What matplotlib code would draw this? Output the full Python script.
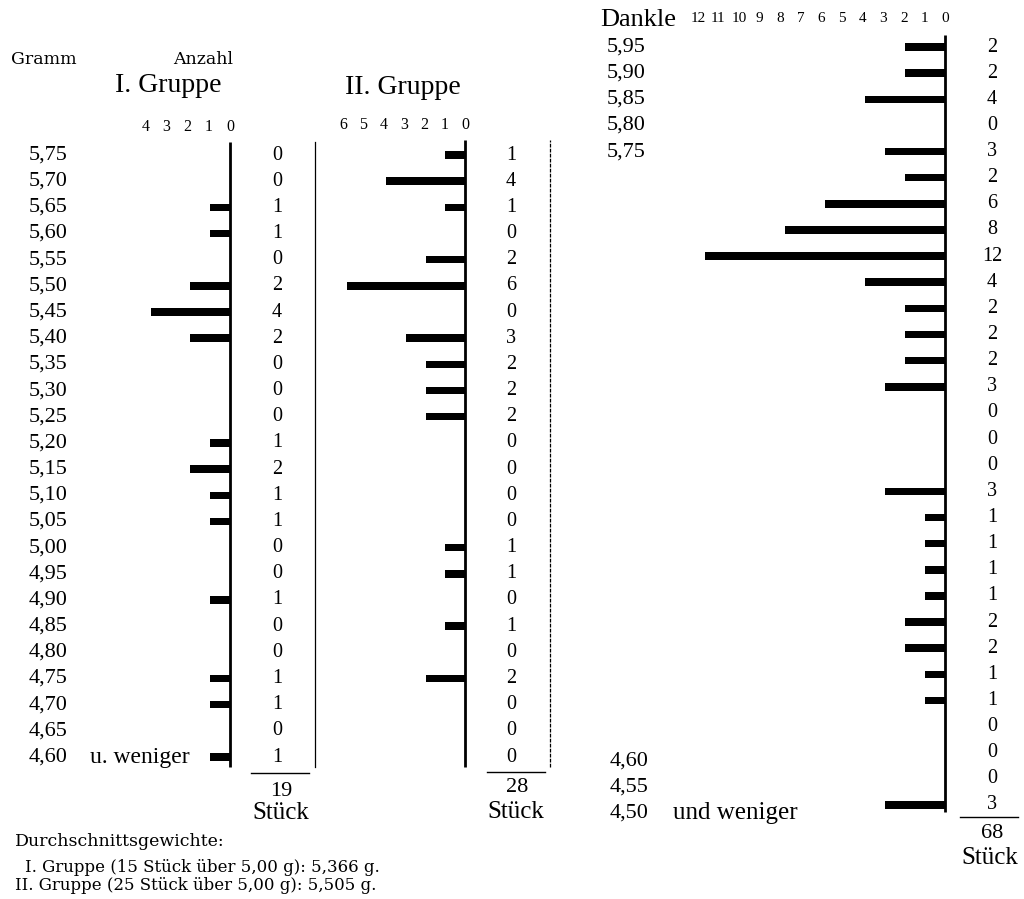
import matplotlib
matplotlib.use("Agg")
import matplotlib.pyplot as plt
from matplotlib import transforms

plt.rcParams['font.family'] = ['Liberation Serif', 'DejaVu Serif']

# ---------------- data ----------------
weights_groups = [5.75, 5.70, 5.65, 5.60, 5.55, 5.50, 5.45, 5.40, 5.35, 5.30, 5.25, 5.20,
                  5.15, 5.10, 5.05, 5.00, 4.95, 4.90, 4.85, 4.80, 4.75, 4.70, 4.65, 4.60]
weight_labels_groups = ["5,75", "5,70", "5,65", "5,60", "5,55", "5,50", "5,45", "5,40",
                        "5,35", "5,30", "5,25", "5,20", "5,15", "5,10", "5,05", "5,00",
                        "4,95", "4,90", "4,85", "4,80", "4,75", "4,70", "4,65", "4,60"]
counts_group1 = [0, 0, 1, 1, 0, 2, 4, 2, 0, 0, 0, 1, 2, 1, 1, 0, 0, 1, 0, 0, 1, 1, 0, 1]
counts_group2 = [1, 4, 1, 0, 2, 6, 0, 3, 2, 2, 2, 0, 0, 0, 0, 1, 1, 0, 1, 0, 2, 0, 0, 0]

weights_dankle = [5.95, 5.90, 5.85, 5.80, 5.75, 5.70, 5.65, 5.60, 5.55, 5.50, 5.45, 5.40,
                  5.35, 5.30, 5.25, 5.20, 5.15, 5.10, 5.05, 5.00, 4.95, 4.90, 4.85, 4.80,
                  4.75, 4.70, 4.65, 4.60, 4.55, 4.50]
counts_dankle = [2, 2, 4, 0, 3, 2, 6, 8, 12, 4, 2, 2, 2, 3, 0, 0, 0, 3, 1, 1, 1, 1, 2, 2,
                 1, 1, 0, 0, 0, 3]
dankle_top_labels = {5.95: "5,95", 5.90: "5,90", 5.85: "5,85", 5.80: "5,80", 5.75: "5,75"}
dankle_bottom_labels = {4.60: "4,60", 4.55: "4,55", 4.50: "4,50"}

ticks_group1 = [4, 3, 2, 1, 0]
ticks_group2 = [6, 5, 4, 3, 2, 1, 0]
ticks_dankle = [12, 11, 10, 9, 8, 7, 6, 5, 4, 3, 2, 1, 0]

total_group1 = "19"
total_group2 = "28"
total_dankle = "68"

# ---------------- figure ----------------
W, H = 1024, 899
fig = plt.figure(figsize=(W / 100, H / 100), dpi=100)
fig.patch.set_facecolor("white")
SMALL_FONT = ['DejaVu Serif']


def ftext(x, y, s, **kw):
    kw.setdefault("va", "center")
    fig.text(x / W, 1 - y / H, s, **kw)


def make_axes(px_l, px_r, px_t, px_b, zero_px, unit_px, top_val, top_px, row_px):
    ax = fig.add_axes([px_l / W, 1 - px_b / H, (px_r - px_l) / W, (px_b - px_t) / H])
    ax.set_xlim((zero_px - px_l) / unit_px, (zero_px - px_r) / unit_px)
    ax.set_ylim(top_val - (px_b - top_px) / row_px * 0.05,
                top_val + (top_px - px_t) / row_px * 0.05)
    ax.set_axis_off()
    return ax


def panel(ax, weights, counts, ticks, zero_px, unit_px, row_px, count_px, border_px,
          line_top_px, line_bot_px, top_val, top_px, tick_y_px, tick_fs, tick_step=1.0,
          bar_px=7.5, border_style="-"):
    to_val = lambda py: top_val - (py - top_px) / row_px * 0.05
    bh = bar_px / row_px * 0.05
    ax.barh(weights, counts, height=bh, color="black", left=0)
    # scale numbers above
    trx = transforms.blended_transform_factory(ax.transData, fig.transFigure)
    for t in ticks:
        ax.text(t * tick_step, 1 - tick_y_px / H, str(t), transform=trx, ha="center",
                va="center", fontsize=tick_fs, clip_on=False)
    ax.plot([0, 0], [to_val(line_bot_px), to_val(line_top_px)], color="black", lw=2.0,
            solid_capstyle="butt")
    cx = (zero_px - count_px) / unit_px
    for w, c in zip(weights, counts):
        ax.text(cx, w, str(c), ha="center", va="center", fontsize=14.5, clip_on=False)
    if border_px is not None:
        bx = (zero_px - border_px) / unit_px
        ax.plot([bx, bx], [to_val(line_bot_px), to_val(line_top_px)], color="black",
                lw=0.9, ls=border_style)


row_g = (757 - 155) / 23.0
# Group I
ax1 = make_axes(100, 330, 135, 780, 230, 19.8, 5.75, 155, row_g)
panel(ax1, weights_groups, counts_group1, ticks_group1, 230, 19.8, row_g, 277, 315,
      142, 767, 5.75, 155, 127, 11.5, tick_step=1.07)
# Group II
ax2 = make_axes(335, 560, 135, 780, 465, 19.7, 5.75, 155, row_g)
panel(ax2, weights_groups, counts_group2, ticks_group2, 465, 19.7, row_g, 511, 550,
      140, 767, 5.75, 155, 125, 11.5, tick_step=1.03, border_style=(0, (3, 1)))
# Dankle
row_d = (805 - 47) / 29.0
ax3 = make_axes(680, 1024, 30, 815, 945, 20.0, 5.95, 47, row_d)
panel(ax3, weights_dankle, counts_dankle, ticks_dankle, 945, 20.0, row_d, 992, None,
      35, 812, 5.95, 47, 18, 11, tick_step=1.03)

# weight labels (left column for groups)
tr1 = transforms.blended_transform_factory(fig.transFigure, ax1.transData)
for w, lab in zip(weights_groups, weight_labels_groups):
    ax1.text(29 / W, w, lab, transform=tr1, ha="left", va="center", fontsize=16,
             clip_on=False)
ax1.text(90 / W, weights_groups[-1], "u. weniger", transform=tr1, ha="left",
         va="center", fontsize=17, clip_on=False)

tr3 = transforms.blended_transform_factory(fig.transFigure, ax3.transData)
for w, lab in dankle_top_labels.items():
    ax3.text(607 / W, w, lab, transform=tr3, ha="left", va="center", fontsize=16,
             clip_on=False)
tr3b = transforms.offset_copy(tr3, fig=fig, x=0, y=-8, units="dots")
for w, lab in dankle_bottom_labels.items():
    ax3.text(610 / W, w, lab, transform=tr3b, ha="left", va="center", fontsize=16,
             clip_on=False)
ax3.text(673 / W, weights_dankle[-1], "und weniger", transform=tr3b, ha="left",
         va="center", fontsize=18, clip_on=False)

# headers
ftext(11, 60, "Gramm", fontsize=12.5, family=SMALL_FONT)
ftext(173, 60, "Anzahl", fontsize=12.5, family=SMALL_FONT)
ftext(115, 86, "I. Gruppe", fontsize=20)
ftext(345, 87, "II. Gruppe", fontsize=20)
ftext(600, 20, "Dankle", fontsize=19)

# totals
fig.add_artist(plt.Line2D([251 / W, 309 / W], [1 - 773 / H, 1 - 773 / H], color="black", lw=1))
ftext(281, 791, total_group1, fontsize=16, ha="center")
ftext(281, 813, "Stück", fontsize=18, ha="center")
fig.add_artist(plt.Line2D([487 / W, 545 / W], [1 - 772 / H, 1 - 772 / H], color="black", lw=1))
ftext(517, 788, total_group2, fontsize=16, ha="center")
ftext(516, 812, "Stück", fontsize=18, ha="center")
fig.add_artist(plt.Line2D([960 / W, 1018 / W], [1 - 817 / H, 1 - 817 / H], color="black", lw=1))
ftext(992, 833, total_dankle, fontsize=16, ha="center")
ftext(990, 858, "Stück", fontsize=18, ha="center")

# footnote
ftext(15, 841, "Durchschnittsgewichte:", fontsize=12.5, family=SMALL_FONT)
ftext(25, 867, "I. Gruppe (15 Stück über 5,00 g): 5,366 g.", fontsize=12, family=SMALL_FONT)
ftext(15, 885, "II. Gruppe (25 Stück über 5,00 g): 5,505 g.", fontsize=12, family=SMALL_FONT)

fig.savefig("out.png", dpi=100, facecolor="white")
